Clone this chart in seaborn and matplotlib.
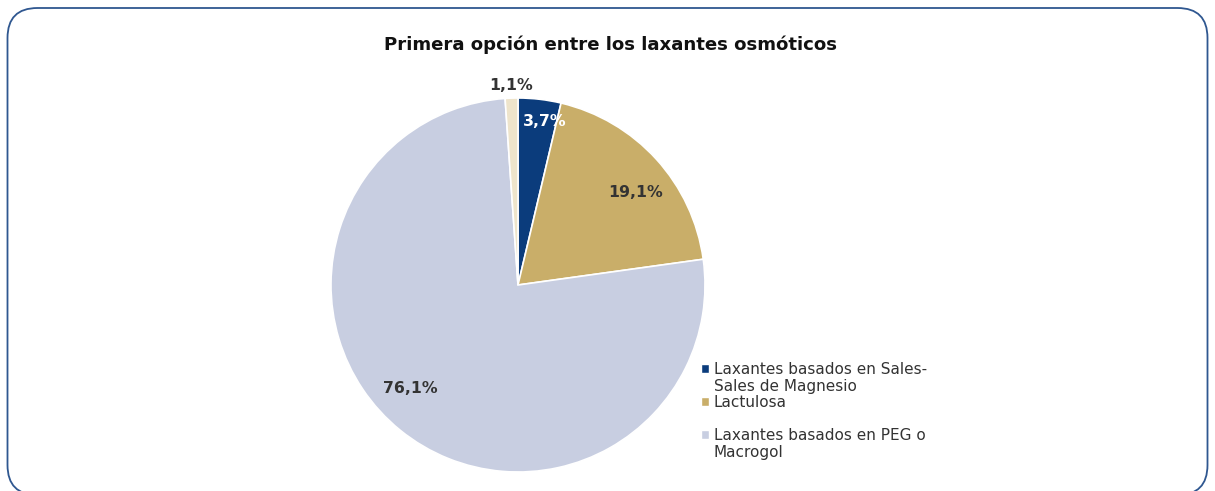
import numpy as np
import matplotlib
matplotlib.use("Agg")
import matplotlib.pyplot as plt
from matplotlib.patches import FancyBboxPatch, Patch
import seaborn as sns

sns.set_theme(style="white")
plt.rcParams["font.family"] = ["DejaVu Sans"]

# Data
categories = ["Laxantes basados en Sales-\nSales de Magnesio", "Lactulosa",
              "Laxantes basados en PEG o\nMacrogol", "Otros"]
values = [3.7, 19.1, 76.1, 1.1]
value_labels = ["3,7%", "19,1%", "76,1%", "1,1%"]
title = "Primera opción entre los laxantes osmóticos"

colors = ["#0B3C7C", "#C9AE69", "#C8CEE1", "#EEE4CB"]
label_colors = ["white", "#333333", "#333333", "#333333"]
label_radius = [0.885, 0.80, 0.80, 1.065]
label_turn = [-2.5, -4.0, -7.0, 0.0]   # small angular nudges, degrees

W, H = 1215, 491
fig = plt.figure(figsize=(W / 100, H / 100), dpi=100)
fig.patch.set_facecolor("white")

# Background axes in pixel units for the rounded frame
bg = fig.add_axes([0, 0, 1, 1])
bg.set_xlim(0, W)
bg.set_ylim(0, H)
bg.axis("off")
frame = FancyBboxPatch((7.5, -4), W - 15, H - 8 + 4,
                       boxstyle="round,pad=0,rounding_size=30",
                       facecolor="none", edgecolor="#2F5790", linewidth=1.3)
bg.add_patch(frame)

fig.text(610 / W, 1 - 45 / H, title, ha="center", va="center",
         fontsize=13.1, fontweight="bold", color="#111111")

cx, cy, r = 518, H - 285, 187
ax = fig.add_axes([(cx - r) / W, (cy - r) / H, 2 * r / W, 2 * r / H])
wedges, _ = ax.pie(values, colors=colors, startangle=90, counterclock=False,
                   radius=1, wedgeprops=dict(edgecolor="white", linewidth=1.2))
ax.set_xlim(-1, 1)
ax.set_ylim(-1, 1)
ax.set_aspect("equal")
ax.axis("off")

for w, lab, c, rr, dt in zip(wedges, value_labels, label_colors, label_radius, label_turn):
    ang = np.deg2rad((w.theta1 + w.theta2) / 2 + dt)
    ax.text(rr * np.cos(ang), rr * np.sin(ang), lab, ha="center", va="center",
            fontsize=11.3, fontweight="bold", color=c, clip_on=False)

# Legend: one row per text line so each marker sits on the first line of its
# entry; the last slice has no entry, and a blank row precedes the PEG item.
blank = Patch(facecolor="none", edgecolor="none")
handles, labels = [], []
for i in range(3):
    lines = categories[i].split("\n")
    if i == 2:
        handles.append(blank)
        labels.append(" ")
    for j, line in enumerate(lines):
        handles.append(Patch(facecolor=colors[i]) if j == 0 else blank)
        labels.append(line)
fig.legend(handles, labels, loc="upper left", bbox_to_anchor=(701 / W, 1 - 362 / H),
           frameon=False, fontsize=11, handlelength=0.5, handleheight=0.5,
           handletextpad=0.35, labelspacing=0.1, borderpad=0, borderaxespad=0,
           labelcolor="#333333")

fig.savefig("out.png", dpi=100, facecolor="white")
